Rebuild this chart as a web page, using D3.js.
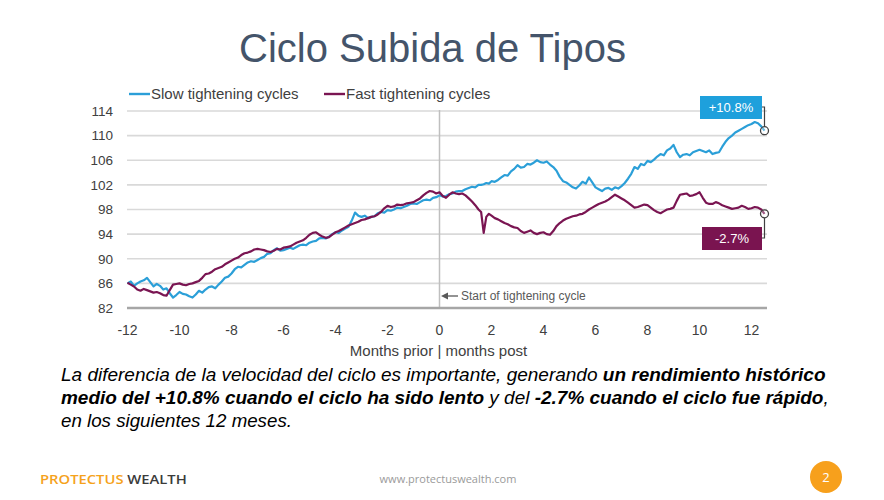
<!DOCTYPE html>
<html><head><meta charset="utf-8">
<script src="https://cdn.jsdelivr.net/npm/d3@7/dist/d3.min.js"></script>
<style>
html,body{margin:0;padding:0;background:#fff;}
svg{display:block;font-family:"Liberation Sans",Arial,sans-serif;}
</style></head>
<body>
<svg id="chart" width="884" height="500"></svg>
<script>
// ---- data ----
// months: eighth-month steps, with finer points around the 1.7 drop
const months = d3.range(-12, 1.5001, 0.125).concat([1.6,1.7,1.8,1.9], d3.range(2, 12.5001, 0.125));
const slowValues = [
  86.0,86.3,85.6,86.0,86.3,86.5,86.9,86.2,
  85.5,85.9,85.6,85.0,85.2,84.4,83.7,84.1,
  84.6,84.3,84.2,83.9,83.7,84.2,84.8,84.5,
  85.0,85.4,85.5,85.2,85.8,86.3,86.9,87.1,
  87.6,88.3,88.7,88.6,89.0,89.4,89.6,89.5,
  89.8,90.1,90.3,90.8,90.9,91.4,91.7,91.3,
  91.4,91.6,91.8,91.6,91.9,92.2,92.3,92.2,
  92.6,92.8,92.9,93.3,93.4,93.3,93.6,94.0,
  94.3,94.2,94.6,94.9,95.2,96.2,97.5,97.0,
  96.8,97.0,96.6,96.8,96.9,97.4,97.6,97.5,
  97.9,97.8,98.0,98.3,98.2,98.4,98.6,98.9,
  99.0,98.9,99.2,99.5,99.6,99.5,99.9,100.0,
  100.3,100.1,100.2,100.5,100.6,100.9,101.0,101.0,
  101.3,101.5,101.7,101.6,102.0,
  102.0,102.1,102.3,102.2,
  102.6,102.5,102.8,103.2,103.6,103.5,104.2,104.6,
  105.2,104.8,104.9,105.4,105.3,105.6,106.0,105.7,
  105.6,105.8,105.3,104.9,104.3,103.3,102.6,102.4,
  102.0,101.6,101.4,101.9,102.5,102.2,103.2,102.4,
  101.6,101.3,101.0,101.4,101.5,101.2,101.6,101.4,
  101.8,102.3,103.0,103.8,104.9,104.6,105.4,105.2,
  105.9,105.7,106.1,106.6,107.0,106.8,107.6,107.9,
  108.5,107.3,106.5,106.9,107.0,106.8,107.3,107.5,
  107.7,107.5,107.3,107.6,107.0,107.2,107.3,108.2,
  109.0,109.6,110.0,110.5,110.8,111.1,111.4,111.7,
  111.9,112.2,112.0,111.5,110.8];
const fastValues = [
  86.1,85.8,85.5,85.0,84.8,85.1,84.9,84.7,
  84.5,84.6,84.4,84.1,84.0,84.9,85.8,85.9,
  86.0,85.8,85.7,85.9,86.0,86.2,86.4,86.9,
  87.5,87.6,87.9,88.3,88.5,88.7,89.1,89.4,
  89.7,90.0,90.2,90.6,90.9,91.0,91.2,91.5,
  91.6,91.5,91.4,91.2,91.1,91.3,91.6,91.5,
  91.8,91.9,92.0,92.3,92.6,92.8,93.0,93.4,
  93.9,94.2,94.3,93.9,93.6,93.4,93.5,93.9,
  94.3,94.5,94.8,95.1,95.4,95.6,95.8,96.0,
  96.3,96.4,96.6,96.8,96.9,97.2,97.6,98.2,
  98.6,98.4,98.5,98.8,98.7,98.8,99.0,99.1,
  99.2,99.5,99.8,100.3,100.7,101.0,100.9,100.6,
  100.8,100.2,99.9,100.4,100.8,100.6,100.5,100.6,
  100.3,99.8,99.3,98.7,98.0,
  97.6,94.2,96.8,97.3,
  97.0,96.6,96.4,96.1,95.8,95.6,95.3,95.1,
  95.0,94.5,94.2,94.4,94.6,94.2,94.0,94.2,
  94.3,94.0,93.9,94.5,95.3,95.8,96.2,96.5,
  96.7,96.9,97.0,97.2,97.3,97.6,98.0,98.3,
  98.6,98.9,99.1,99.3,99.6,100.0,100.4,100.1,
  99.8,99.5,99.1,98.7,98.3,98.4,98.6,98.8,
  98.7,98.3,97.9,97.6,97.4,97.7,98.0,98.1,
  98.3,99.4,100.4,100.5,100.6,100.2,100.3,100.5,
  100.8,99.9,99.1,98.9,98.9,99.2,99.0,98.7,
  98.5,98.3,98.1,98.2,98.3,98.6,98.4,98.1,
  98.2,98.4,98.3,98.0,97.3];
const seriesNames = ["Slow tightening cycles","Fast tightening cycles"];
const endLabels = ["+10.8%","-2.7%"];
const yTicks = [82,86,90,94,98,102,106,110,114];
const xTicks = [-12,-10,-8,-6,-4,-2,0,2,4,6,8,10,12];

const BLUE = "#2b9fd8", MAROON = "#7a1552";
const svg = d3.select("#chart");

const x = d3.scaleLinear().domain([-12,12]).range([127.5,751.5]);
const y = d3.scaleLinear().domain([82,114]).range([308,111]);

// title
svg.append("text").attr("x",432.5).attr("y",62).attr("text-anchor","middle")
  .attr("font-size",40).attr("fill","#44546a").text("Ciclo Subida de Tipos");

// grid
svg.append("g").selectAll("line").data(yTicks.filter(d=>d!==82)).join("line")
  .attr("x1",127).attr("x2",767).attr("y1",d=>y(d)).attr("y2",d=>y(d))
  .attr("stroke","#d9d9d9").attr("stroke-width",1.6);
// y labels
svg.append("g").selectAll("text").data(yTicks).join("text")
  .attr("x",113).attr("y",d=>y(d)).attr("dy","0.36em").attr("text-anchor","end")
  .attr("font-size",13.5).attr("fill","#404040").text(d=>d);

// vertical line at 0
svg.append("line").attr("x1",x(0)).attr("x2",x(0)).attr("y1",110).attr("y2",y(82))
  .attr("stroke","#bfbfbf").attr("stroke-width",1.5);

// baseline axis
svg.append("line").attr("x1",127).attr("x2",767).attr("y1",y(82)).attr("y2",y(82))
  .attr("stroke","#a6a6a6").attr("stroke-width",2.5);

// x axis labels
svg.append("g").selectAll("text").data(xTicks).join("text")
  .attr("x",d=>x(d)).attr("y",335).attr("text-anchor","middle")
  .attr("font-size",14).attr("fill","#404040").text(d=>d);
svg.append("text").attr("x",438.5).attr("y",356).attr("text-anchor","middle")
  .attr("font-size",15).attr("fill","#404040").text("Months prior | months post");

// start of tightening annotation
svg.append("line").attr("x1",458).attr("x2",446).attr("y1",296).attr("y2",296)
  .attr("stroke","#595959").attr("stroke-width",1.3);
svg.append("path").attr("d","M441,296 L448,292.5 L448,299.5 Z").attr("fill","#595959");
svg.append("text").attr("x",461).attr("y",300).attr("font-size",12).attr("fill","#595959")
  .text("Start of tightening cycle");

// lines
const line = d3.line().x((d,i)=>x(months[i])).y(d=>y(d));
svg.append("path").datum(slowValues).attr("d",line).attr("fill","none")
  .attr("stroke",BLUE).attr("stroke-width",2.2).attr("stroke-linejoin","round");
svg.append("path").datum(fastValues).attr("d",line).attr("fill","none")
  .attr("stroke",MAROON).attr("stroke-width",2.2).attr("stroke-linejoin","round");

// legend
const leg = [{name:seriesNames[0],c:BLUE,x0:129},{name:seriesNames[1],c:MAROON,x0:324}];
leg.forEach(l=>{
  svg.append("line").attr("x1",l.x0).attr("x2",l.x0+21).attr("y1",94).attr("y2",94)
    .attr("stroke",l.c).attr("stroke-width",2.4);
  svg.append("text").attr("x",l.x0+22).attr("y",99).attr("font-size",15).attr("fill","#404040").text(l.name);
});

// end markers and boxes
const lastM = months[months.length-1];
const ex = x(lastM);
const ySlow = y(slowValues[slowValues.length-1]);
const yFast = y(fastValues[fastValues.length-1]);
svg.append("path").attr("d",`M762,107 H${ex} V${ySlow-4}`).attr("fill","none").attr("stroke","#404040").attr("stroke-width",1.2);
svg.append("rect").attr("x",700).attr("y",96).attr("width",62).attr("height",23).attr("fill","#1ea0dc");
svg.append("text").attr("x",731).attr("y",112).attr("text-anchor","middle").attr("font-size",13).attr("fill","#fff").text(endLabels[0]);
svg.append("circle").attr("cx",ex).attr("cy",ySlow).attr("r",4).attr("fill","#fff").attr("fill-opacity",0.3).attr("stroke","#404040").attr("stroke-width",1.3);
svg.append("path").attr("d",`M${ex},${yFast+4} V238 H762`).attr("fill","none").attr("stroke","#404040").attr("stroke-width",1.2);
svg.append("rect").attr("x",702).attr("y",227).attr("width",60).attr("height",23).attr("fill","#7a1450");
svg.append("text").attr("x",732).attr("y",243).attr("text-anchor","middle").attr("font-size",13).attr("fill","#fff").text(endLabels[1]);
svg.append("circle").attr("cx",ex).attr("cy",yFast).attr("r",4).attr("fill","#fff").attr("fill-opacity",0.3).attr("stroke","#404040").attr("stroke-width",1.3);

// body text
const bodyLines = [
  [["La diferencia de la velocidad del ciclo es importante, generando ",false],["un rendimiento histórico",true]],
  [["medio del +10.8% cuando el ciclo ha sido lento",true],[" y del ",false],["-2.7% cuando el ciclo fue rápido",true],[",",false]],
  [["en los siguientes 12 meses.",false]]
];
const bodyWidths = [765,768,231];
const bodyY = [381,404,427];
bodyLines.forEach((ln,i)=>{
  const g = svg.append("g");
  const t = g.append("text").attr("x",0).attr("y",0).attr("font-size",18).attr("font-style","italic").attr("fill","#000");
  ln.forEach(([s,b])=>t.append("tspan").attr("font-weight",b?"bold":"normal").text(s));
  const w = t.node().getComputedTextLength();
  g.attr("transform",`translate(61,${bodyY[i]}) scale(${bodyWidths[i]/w},1)`);
});

// footer
const fg = svg.append("g");
const ft = fg.append("text").attr("font-family","'Open Sans',sans-serif").attr("font-size",13).attr("font-weight",600);
ft.append("tspan").attr("fill","#f5a21b").text("PROTECTUS ");
ft.append("tspan").attr("fill","#3b3b3b").text("WEALTH");
const fw = ft.node().getComputedTextLength();
fg.attr("transform",`translate(40,484) scale(${147/fw},1)`);
svg.append("text").attr("x",448).attr("y",483).attr("text-anchor","middle").attr("font-family","'Open Sans',sans-serif")
  .attr("font-size",11).attr("fill","#9a9a9a").text("www.protectuswealth.com");
svg.append("circle").attr("cx",826).attr("cy",477).attr("r",16).attr("fill","#f7a01c");
svg.append("text").attr("x",826).attr("y",482).attr("text-anchor","middle").attr("font-family","'Open Sans',sans-serif")
  .attr("font-size",13).attr("fill","#fff").text("2");
</script>
</body></html>
